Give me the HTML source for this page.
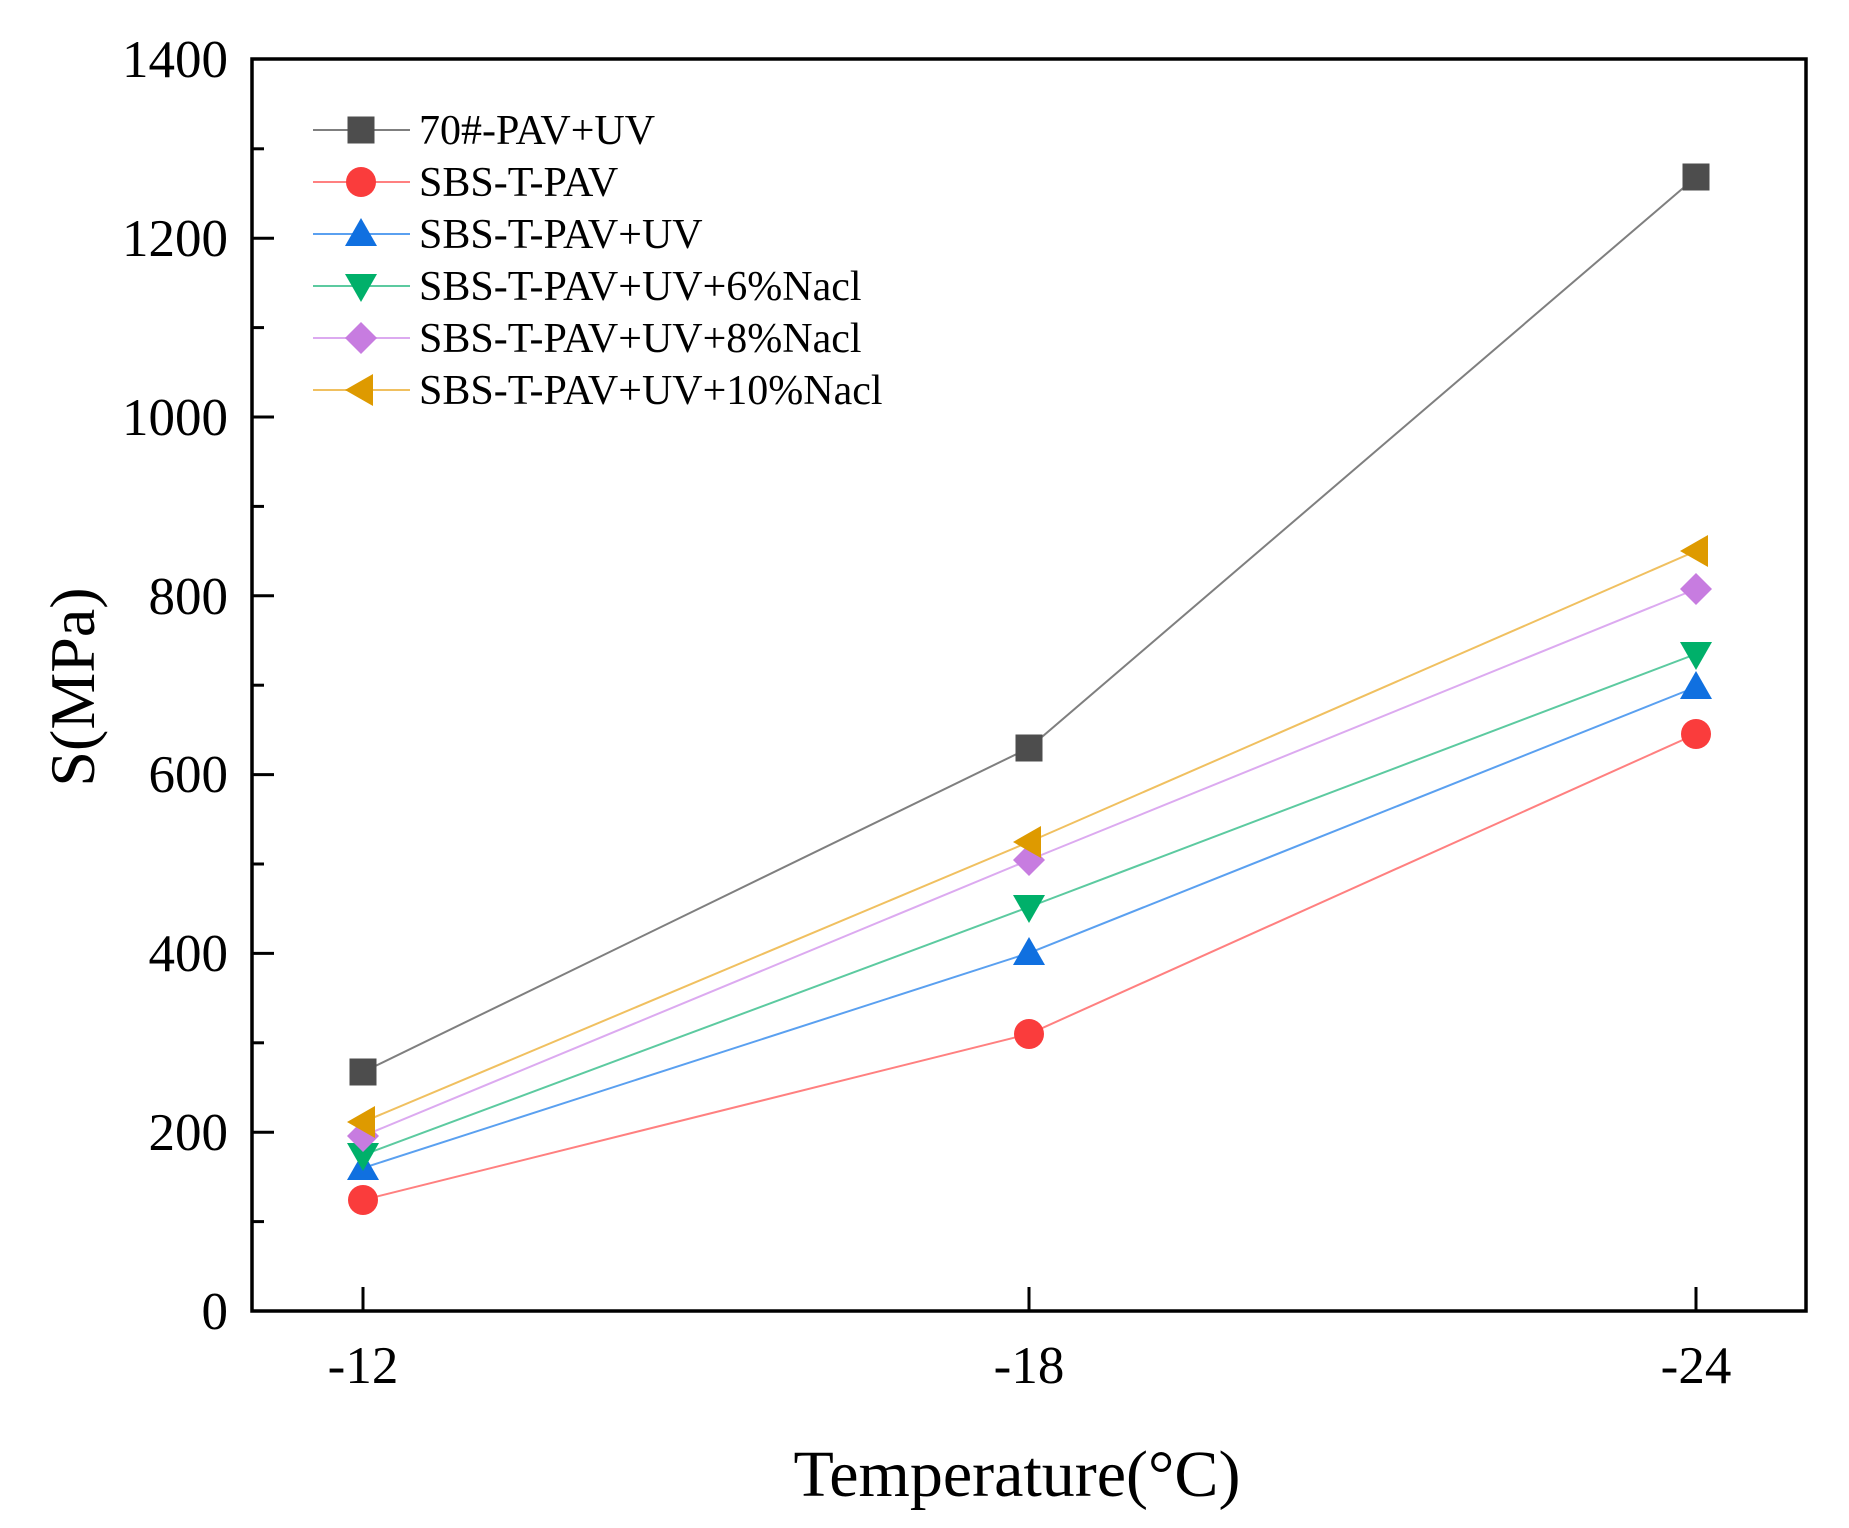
<!DOCTYPE html>
<html><head><meta charset="utf-8"><style>
html,body{margin:0;padding:0;background:#fff;}
svg{display:block;font-family:"Liberation Serif","DejaVu Serif",serif;}
</style></head><body>
<svg width="1849" height="1528" viewBox="0 0 1849 1528" xmlns="http://www.w3.org/2000/svg">
<defs>
<g id="sq"><rect x="-13.5" y="-13.5" width="27" height="27" fill="#4d4d4d"/></g>
<g id="ci"><circle r="15" fill="#fa3c3c"/></g>
<g id="tu"><polygon points="0,-16 16,12 -16,12" fill="#1070e0"/></g>
<g id="td"><polygon points="0,16 16,-12 -16,-12" fill="#00b06a"/></g>
<g id="di"><polygon points="0,-16 16,0 0,16 -16,0" fill="#c77ce0"/></g>
<g id="tl"><polygon points="-16,0 12,-16 12,16" fill="#de9a00"/></g>
</defs>
<polyline points="363,1072 1029,748 1696,177" fill="none" stroke="#7f7f7f" stroke-width="2"/>
<polyline points="363,1200 1029,1034 1696,734" fill="none" stroke="#ff8080" stroke-width="2"/>
<polyline points="363,1168 1029,953 1696,687" fill="none" stroke="#5aa0f0" stroke-width="2"/>
<polyline points="363,1155 1029,907 1696,654" fill="none" stroke="#5ccaa0" stroke-width="2"/>
<polyline points="363,1136 1029,860 1696,589" fill="none" stroke="#dcaaf0" stroke-width="2"/>
<polyline points="363,1122 1029,842 1696,551" fill="none" stroke="#f0c060" stroke-width="2"/>
<use href="#sq" x="363" y="1072"/><use href="#sq" x="1029" y="748"/><use href="#sq" x="1696" y="177"/>
<use href="#ci" x="363" y="1200"/><use href="#ci" x="1029" y="1034"/><use href="#ci" x="1696" y="734"/>
<use href="#tu" x="363" y="1168"/><use href="#tu" x="1029" y="953"/><use href="#tu" x="1696" y="687"/>
<use href="#td" x="363" y="1155"/><use href="#td" x="1029" y="907"/><use href="#td" x="1696" y="654"/>
<use href="#di" x="363" y="1136"/><use href="#di" x="1029" y="860"/><use href="#di" x="1696" y="589"/>
<use href="#tl" x="363" y="1122"/><use href="#tl" x="1029" y="842"/><use href="#tl" x="1696" y="551"/>
<rect x="252" y="59" width="1554" height="1252" fill="none" stroke="#000" stroke-width="3.5"/>
<g stroke="#000" stroke-width="3">
<line x1="252" y1="1221.6" x2="264" y2="1221.6"/>
<line x1="252" y1="1132.2" x2="274" y2="1132.2"/>
<line x1="252" y1="1042.8" x2="264" y2="1042.8"/>
<line x1="252" y1="953.4" x2="274" y2="953.4"/>
<line x1="252" y1="864" x2="264" y2="864"/>
<line x1="252" y1="774.6" x2="274" y2="774.6"/>
<line x1="252" y1="685.2" x2="264" y2="685.2"/>
<line x1="252" y1="595.8" x2="274" y2="595.8"/>
<line x1="252" y1="506.4" x2="264" y2="506.4"/>
<line x1="252" y1="417" x2="274" y2="417"/>
<line x1="252" y1="327.6" x2="264" y2="327.6"/>
<line x1="252" y1="238.2" x2="274" y2="238.2"/>
<line x1="252" y1="148.8" x2="264" y2="148.8"/>
<line x1="363" y1="1311" x2="363" y2="1287"/>
<line x1="1029" y1="1311" x2="1029" y2="1287"/>
<line x1="1696" y1="1311" x2="1696" y2="1287"/>
</g>
<g font-size="53" text-anchor="end" fill="#000">
<text x="228" y="1329">0</text>
<text x="228" y="1150">200</text>
<text x="228" y="971">400</text>
<text x="228" y="792">600</text>
<text x="228" y="614">800</text>
<text x="228" y="435">1000</text>
<text x="228" y="256">1200</text>
<text x="228" y="77">1400</text>
</g>
<g font-size="53" text-anchor="middle" fill="#000">
<text x="363" y="1383">-12</text>
<text x="1029" y="1383">-18</text>
<text x="1696" y="1383">-24</text>
</g>
<text x="1017" y="1496" font-size="66" text-anchor="middle">Temperature(°C)</text>
<text transform="translate(94,687) rotate(-90)" font-size="64" text-anchor="middle">S(MPa)</text>
<g font-size="42" fill="#000">
<line x1="313" y1="130" x2="410" y2="130" stroke="#7f7f7f" stroke-width="2"/><use href="#sq" x="361" y="130"/>
<text x="419" y="144">70#-PAV+UV</text>
<line x1="313" y1="182" x2="410" y2="182" stroke="#ff8080" stroke-width="2"/><use href="#ci" x="361" y="182"/>
<text x="419" y="196">SBS-T-PAV</text>
<line x1="313" y1="234" x2="410" y2="234" stroke="#5aa0f0" stroke-width="2"/><use href="#tu" x="361" y="234"/>
<text x="419" y="248">SBS-T-PAV+UV</text>
<line x1="313" y1="286" x2="410" y2="286" stroke="#5ccaa0" stroke-width="2"/><use href="#td" x="361" y="286"/>
<text x="419" y="300">SBS-T-PAV+UV+6%Nacl</text>
<line x1="313" y1="338" x2="410" y2="338" stroke="#dcaaf0" stroke-width="2"/><use href="#di" x="361" y="338"/>
<text x="419" y="352">SBS-T-PAV+UV+8%Nacl</text>
<line x1="313" y1="390" x2="410" y2="390" stroke="#f0c060" stroke-width="2"/><use href="#tl" x="361" y="390"/>
<text x="419" y="404">SBS-T-PAV+UV+10%Nacl</text>
</g>
</svg>
</body></html>
